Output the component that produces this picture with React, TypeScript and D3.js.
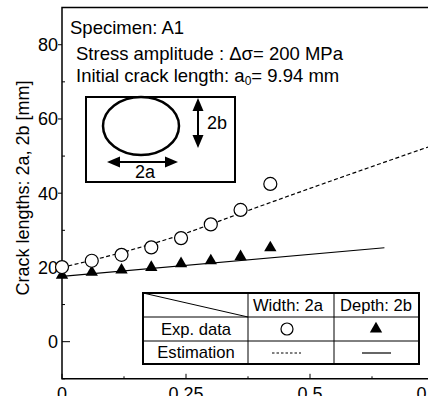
import React, { useRef, useEffect } from 'react';
import * as d3 from 'd3';

// fraction of life (x) and crack lengths in mm
const expX = [0, 0.06, 0.12, 0.18, 0.24, 0.3, 0.36, 0.42];
const widthData = [20.1, 21.8, 23.4, 25.4, 27.9, 31.6, 35.5, 42.5];
const depthData = [17.9, 18.7, 19.3, 20.0, 21.0, 21.8, 22.9, 25.3];

const estWidthX = [0, 0.12, 0.24, 0.36, 0.5, 0.75];
const estWidthY = [20.0, 24.0, 28.8, 34.6, 41.3, 53.0];
const estDepthX = [0, 0.65];
const estDepthY = [17.6, 25.3];

const xMajorTicks = [0, 0.25, 0.5, 0.75];
const xMinorTicks = [0.125, 0.375, 0.625];
const yMajorTicks = [0, 20, 40, 60, 80];
const yMinorTicks = [-10, 10, 30, 50, 70];

const FONT = '"Liberation Sans", Arial, sans-serif';

const App = () => {
  const svgRef = useRef(null);

  useEffect(() => {
    const svg = d3.select(svgRef.current);
    svg.selectAll('*').remove();

    const x = d3.scaleLinear().domain([0, 0.75]).range([62, 434]);
    const y = d3.scaleLinear().domain([-10, 90]).range([378.8, 7.6]);

    svg.style('font-family', FONT);

    // frame
    svg
      .append('path')
      .attr('d', `M${x(0)},${y(90)}H${x(0.75)}V${y(-10)}H${x(0)}Z`)
      .attr('fill', 'none')
      .attr('stroke', 'black')
      .attr('stroke-width', 1.5);

    // y ticks
    yMajorTicks.forEach((t) => {
      const inward = t === 0;
      svg
        .append('line')
        .attr('x1', x(0))
        .attr('x2', inward ? x(0) + 8 : x(0) - 4)
        .attr('y1', y(t))
        .attr('y2', y(t))
        .attr('stroke', 'black')
        .attr('stroke-width', 1);
      svg
        .append('text')
        .attr('x', x(0) - 4)
        .attr('y', y(t) + 6.5)
        .attr('text-anchor', 'end')
        .attr('font-size', 18)
        .text(t);
    });
    yMinorTicks.forEach((t) => {
      svg
        .append('line')
        .attr('x1', x(0))
        .attr('x2', x(0) + 3)
        .attr('y1', y(t))
        .attr('y2', y(t))
        .attr('stroke', 'black')
        .attr('stroke-width', 1);
    });

    // x ticks
    xMajorTicks.forEach((t) => {
      svg
        .append('line')
        .attr('x1', x(t))
        .attr('x2', x(t))
        .attr('y1', y(-10))
        .attr('y2', y(-10) - 5)
        .attr('stroke', 'black')
        .attr('stroke-width', 1);
      svg
        .append('text')
        .attr('x', x(t))
        .attr('y', y(-10) + 21)
        .attr('text-anchor', 'middle')
        .attr('font-size', 18)
        .text(t);
    });
    xMinorTicks.forEach((t) => {
      svg
        .append('line')
        .attr('x1', x(t))
        .attr('x2', x(t))
        .attr('y1', y(-10))
        .attr('y2', y(-10) - 2.5)
        .attr('stroke', 'black')
        .attr('stroke-width', 1);
    });

    // y label
    svg
      .append('text')
      .attr('transform', `translate(29,188) rotate(-90)`)
      .attr('text-anchor', 'middle')
      .attr('font-size', 18)
      .text('Crack lengths: 2a, 2b [mm]');

    // annotation texts
    svg.append('text').attr('x', 70).attr('y', 34).attr('font-size', 18.5).text('Specimen: A1');
    svg
      .append('text')
      .attr('x', 76)
      .attr('y', 60)
      .attr('font-size', 18.5)
      .text('Stress amplitude : \u0394\u03c3= 200 MPa');
    const t3 = svg.append('text').attr('x', 76).attr('y', 82).attr('font-size', 18.5);
    t3.append('tspan').text('Initial crack length: a');
    t3.append('tspan').attr('font-size', 12).attr('dy', 3).text('0');
    t3.append('tspan').attr('dy', -3).text('= 9.94 mm');

    // inset sketch
    svg
      .append('rect')
      .attr('x', 86)
      .attr('y', 97)
      .attr('width', 149)
      .attr('height', 85)
      .attr('fill', 'white')
      .attr('stroke', 'black')
      .attr('stroke-width', 2);
    svg
      .append('ellipse')
      .attr('cx', 141)
      .attr('cy', 126)
      .attr('rx', 38)
      .attr('ry', 29)
      .attr('fill', 'none')
      .attr('stroke', 'black')
      .attr('stroke-width', 2.5);
    // horizontal arrow
    svg.append('line').attr('x1', 115).attr('x2', 170).attr('y1', 162).attr('y2', 162).attr('stroke', 'black').attr('stroke-width', 2);
    svg.append('path').attr('d', 'M107,162L120,156.5L120,167.5Z').attr('fill', 'black');
    svg.append('path').attr('d', 'M178,162L165,156.5L165,167.5Z').attr('fill', 'black');
    svg.append('text').attr('x', 145).attr('y', 177.5).attr('text-anchor', 'middle').attr('font-size', 18).text('2a');
    // vertical arrow
    svg.append('line').attr('x1', 198).attr('x2', 198).attr('y1', 106).attr('y2', 140).attr('stroke', 'black').attr('stroke-width', 2);
    svg.append('path').attr('d', 'M198,98L192.5,111L203.5,111Z').attr('fill', 'black');
    svg.append('path').attr('d', 'M198,148L192.5,135L203.5,135Z').attr('fill', 'black');
    svg.append('text').attr('x', 207).attr('y', 129).attr('font-size', 18).text('2b');

    // estimation lines
    const line = d3
      .line()
      .x((d) => x(d[0]))
      .y((d) => y(d[1]))
      .curve(d3.curveMonotoneX);

    svg
      .append('path')
      .datum(estWidthX.map((v, i) => [v, estWidthY[i]]))
      .attr('d', line)
      .attr('fill', 'none')
      .attr('stroke', 'black')
      .attr('stroke-width', 1.2)
      .attr('stroke-dasharray', '4 2.5');

    svg
      .append('path')
      .datum(estDepthX.map((v, i) => [v, estDepthY[i]]))
      .attr('d', line)
      .attr('fill', 'none')
      .attr('stroke', 'black')
      .attr('stroke-width', 1.2);

    // experimental data
    const tri = d3.symbol(d3.symbolTriangle, 66);
    svg
      .selectAll('.tri')
      .data(expX.map((v, i) => [v, depthData[i]]))
      .join('path')
      .attr('class', 'tri')
      .attr('d', tri)
      .attr('transform', (d) => `translate(${x(d[0])},${y(d[1])})`)
      .attr('fill', 'black');

    svg
      .selectAll('.circ')
      .data(expX.map((v, i) => [v, widthData[i]]))
      .join('circle')
      .attr('class', 'circ')
      .attr('cx', (d) => x(d[0]))
      .attr('cy', (d) => y(d[1]))
      .attr('r', 6.5)
      .attr('fill', 'white')
      .attr('stroke', 'black')
      .attr('stroke-width', 1.2);

    // legend table
    const lg = svg.append('g');
    lg.append('rect')
      .attr('x', 143)
      .attr('y', 293)
      .attr('width', 276)
      .attr('height', 71)
      .attr('fill', 'white')
      .attr('stroke', 'black')
      .attr('stroke-width', 2);
    [317, 341].forEach((yy) =>
      lg.append('line').attr('x1', 143).attr('x2', 419).attr('y1', yy).attr('y2', yy).attr('stroke', 'black').attr('stroke-width', 1)
    );
    [248, 334].forEach((xx) =>
      lg.append('line').attr('x1', xx).attr('x2', xx).attr('y1', 293).attr('y2', 364).attr('stroke', 'black').attr('stroke-width', 1)
    );
    lg.append('line').attr('x1', 143).attr('x2', 248).attr('y1', 293).attr('y2', 317).attr('stroke', 'black').attr('stroke-width', 1);
    lg.append('text').attr('x', 288).attr('y', 311).attr('text-anchor', 'middle').attr('font-size', 16.6).text('Width: 2a');
    lg.append('text').attr('x', 376).attr('y', 311).attr('text-anchor', 'middle').attr('font-size', 16.6).text('Depth: 2b');
    lg.append('text').attr('x', 196).attr('y', 335).attr('text-anchor', 'middle').attr('font-size', 16.6).text('Exp. data');
    lg.append('text').attr('x', 196).attr('y', 358).attr('text-anchor', 'middle').attr('font-size', 16.6).text('Estimation');
    lg.append('circle').attr('cx', 287).attr('cy', 329).attr('r', 6).attr('fill', 'white').attr('stroke', 'black').attr('stroke-width', 1.2);
    lg.append('path').attr('d', tri).attr('transform', 'translate(376,329)').attr('fill', 'black');
    lg.append('line').attr('x1', 272).attr('x2', 301).attr('y1', 353).attr('y2', 353).attr('stroke', 'black').attr('stroke-width', 1).attr('stroke-dasharray', '2.5 2');
    lg.append('line').attr('x1', 362).attr('x2', 391).attr('y1', 353).attr('y2', 353).attr('stroke', 'black').attr('stroke-width', 1.2);
  }, []);

  return (
    <svg
      ref={svgRef}
      width={428}
      height={396}
      style={{ position: 'absolute', left: 0, top: 0, background: 'white' }}
    ></svg>
  );
};

export default App;
